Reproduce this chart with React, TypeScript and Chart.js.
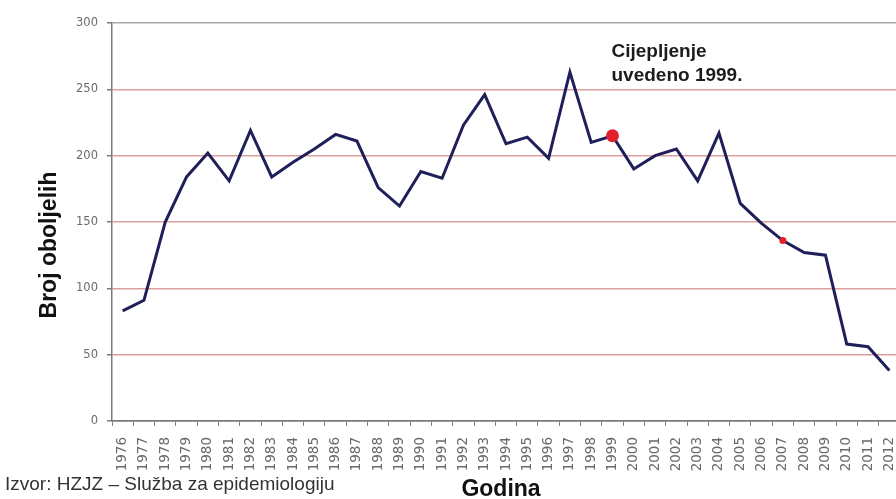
import React, { useEffect, useRef } from "react";
import { Chart, registerables } from "chart.js";

Chart.register(...registerables);

const years = [
  "1976", "1977", "1978", "1979", "1980", "1981", "1982", "1983", "1984", "1985",
  "1986", "1987", "1988", "1989", "1990", "1991", "1992", "1993", "1994", "1995",
  "1996", "1997", "1998", "1999", "2000", "2001", "2002", "2003", "2004", "2005",
  "2006", "2007", "2008", "2009", "2010", "2011", "2012",
];
const cases = [
  83, 91, 150, 184, 202, 181, 219, 184, 195, 205,
  216, 211, 176, 162, 188, 183, 223, 246, 209, 214,
  198, 263, 210, 215, 190, 200, 205, 181, 217, 164,
  149, 136, 127, 125, 58, 56, 38,
];
const yTicks = [0, 50, 100, 150, 200, 250, 300];
const bigMarkerYear = "1999";
const smallMarkerYear = "2007";
const annotationYear = "1999";
const annotationValue = 274;
const annotationLines = ["Cijepljenje", "uvedeno 1999."];
const yAxisTitle = "Broj oboljelih";
const xAxisTitle = "Godina";
const sourceText = "Izvor: HZJZ – Služba za epidemiologiju";

const FONT = '"Liberation Sans", Arial, sans-serif';

const textPlugin = {
  id: "extraTexts",
  afterDraw(chart: any) {
    const { ctx, chartArea, scales } = chart;
    const xs = scales.x;
    const ys = scales.y;
    ctx.save();
    // annotation
    ctx.fillStyle = "#1c1c1c";
    ctx.font = `bold 19px ${FONT}`;
    ctx.textAlign = "left";
    ctx.textBaseline = "alphabetic";
    const ax = xs.getPixelForValue(years.indexOf(annotationYear)) - 1;
    const ay = ys.getPixelForValue(annotationValue);
    annotationLines.forEach((t, i) => ctx.fillText(t, ax, ay + i * 24));

    // y axis title
    ctx.save();
    ctx.translate(chartArea.left - 62, (chartArea.top + chartArea.bottom) / 2 + 23);
    ctx.rotate(-Math.PI / 2);
    ctx.textAlign = "center";
    ctx.textBaseline = "middle";
    ctx.font = `bold 23px ${FONT}`;
    ctx.fillStyle = "#111";
    ctx.fillText(yAxisTitle, 0, 0);
    ctx.restore();

    // x axis title
    ctx.textAlign = "center";
    ctx.textBaseline = "alphabetic";
    ctx.font = `bold 23px ${FONT}`;
    ctx.fillStyle = "#111";
    ctx.fillText(xAxisTitle, (chartArea.left + chartArea.right) / 2 - 5, chart.height - 3);

    // source
    ctx.textAlign = "left";
    ctx.font = `19px ${FONT}`;
    ctx.fillStyle = "#333";
    ctx.fillText(sourceText, 5, chart.height - 9);
    ctx.restore();
  },
};

export default function App() {
  const canvasRef = useRef<HTMLCanvasElement | null>(null);

  useEffect(() => {
    if (!canvasRef.current) return;
    const bigIdx = years.indexOf(bigMarkerYear);
    const smallIdx = years.indexOf(smallMarkerYear);
    const chart = new Chart(canvasRef.current, {
      type: "line",
      data: {
        labels: years,
        datasets: [
          {
            data: cases,
            borderColor: "#1f1f5a",
            borderWidth: 3,
            tension: 0,
            pointRadius: (c: any) => (c.dataIndex === bigIdx ? 6.5 : c.dataIndex === smallIdx ? 3.5 : 0),
            pointBackgroundColor: "#e0202a",
            pointBorderWidth: 0,
            pointHoverRadius: 0,
          },
        ],
      },
      options: {
        animation: false,
        responsive: true,
        maintainAspectRatio: false,
        layout: { padding: { top: 23, right: 0, left: 0, bottom: 0 } },
        plugins: { legend: { display: false }, tooltip: { enabled: false } },
        events: [],
        scales: {
          x: {
            type: "category",
            offset: true,
            afterFit: (s: any) => {
              s.height = 78;
              s.paddingLeft = 0;
              s.paddingRight = 0;
            },
            grid: {
              display: true,
              drawOnChartArea: false,
              drawTicks: true,
              tickLength: 5,
              offset: true,
              color: "#808080",
              lineWidth: 1,
            },
            border: { display: true, color: "#7a7a7a", width: 1.5 },
            ticks: {
              autoSkip: false,
              maxRotation: 90,
              minRotation: 90,
              padding: 11,
              color: "#6a6a6a",
              font: { family: '"DejaVu Sans", sans-serif', size: 13.5 },
            },
          },
          y: {
            min: 0,
            max: 300,
            afterFit: (s: any) => {
              s.width = 112;
            },
            afterBuildTicks: (s: any) => {
              s.ticks = yTicks.map((v) => ({ value: v }));
            },
            grid: {
              color: (c: any) =>
                c.tick && c.tick.value === 300 ? "#a8a8a8" : c.tick && c.tick.value === 0 ? "#7a7a7a" : "#dc9f9f",
              lineWidth: 1.5,
              tickLength: 5,
              tickColor: "#7a7a7a",
            },
            border: { display: true, color: "#7a7a7a", width: 1.5 },
            ticks: {
              padding: 9,
              color: "#6a6a6a",
              font: { family: '"DejaVu Sans", sans-serif', size: 11.5 },
            },
          },
        },
      },
      plugins: [textPlugin],
    });
    return () => chart.destroy();
  }, []);

  return (
    <div
      style={{
        position: "absolute",
        left: 0,
        top: 0,
        width: 896,
        height: 499,
        overflow: "hidden",
        background: "#fff",
      }}
    >
      <div style={{ position: "relative", width: 900, height: 499 }}>
        <canvas ref={canvasRef} />
      </div>
    </div>
  );
}
